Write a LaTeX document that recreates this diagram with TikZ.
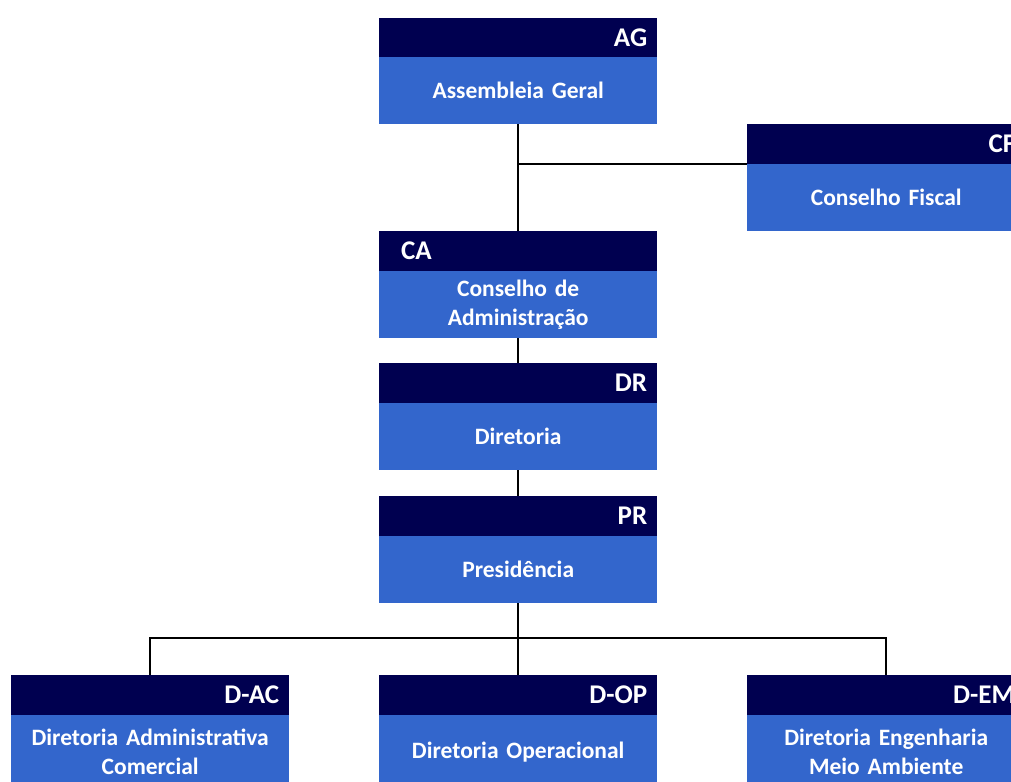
\documentclass[tikz,border=0pt]{standalone}
\usepackage{fontspec}
\setmainfont{Carlito}
\definecolor{hdrc}{RGB}{0,0,80}
\definecolor{bdyc}{RGB}{51,102,204}
\begin{document}
\begin{tikzpicture}[x=1pt,y=-1pt,
  hdr/.style={fill=hdrc, minimum height=40pt, anchor=north west, inner xsep=10pt, inner ysep=0pt,
    text width=258pt, align=right, text=white, font=\fontsize{27}{30}\selectfont\bfseries},
  hdrl/.style={hdr, inner xsep=22pt, text width=234pt, align=left},
  bdy/.style={fill=bdyc, minimum height=67pt, anchor=north west, inner sep=0pt,
    text width=278pt, align=center, text=white, font=\fontsize{23.5}{29}\selectfont\bfseries},
  bdyb/.style={bdy, minimum height=74pt},
  conn/.style={draw=black, line width=2pt}]
\clip (0,0) rectangle (1011,781);
\fill[white] (0,0) rectangle (1011,781);
% boxes
\node[hdr] (agh) at (379,18) {AG};
\node[bdy] (agb) at (379,57) {Assembleia Geral};
\node[hdr] (cfh) at (747,124) {CF};
\node[bdy] (cfb) at (747,164) {Conselho Fiscal};
\node[hdrl] (cah) at (379,231) {CA};
\node[bdy] (cab) at (379,271) {Conselho de\\Administração};
\node[hdr] (drh) at (379,363) {DR};
\node[bdy] (drb) at (379,403) {Diretoria};
\node[hdr] (prh) at (379,496) {PR};
\node[bdy] (prb) at (379,536) {Presidência};
\node[hdr] (ach) at (11,675) {D-AC};
\node[bdyb] (acb) at (11,715) {Diretoria Administrativa\\Comercial};
\node[hdr] (oph) at (379,675) {D-OP};
\node[bdyb] (opb) at (379,715) {Diretoria Operacional};
\node[hdr] (emh) at (747,675) {D-EM};
\node[bdyb] (emb) at (747,715) {Diretoria Engenharia\\Meio Ambiente};
% connectors
\coordinate (bus) at (518,638);
\draw[conn] (agb.south) -- (cah.north);
\draw[conn] (agb.south |- cfb.north west) -- (cfb.north west);
\draw[conn] (cab.south) -- (drh.north);
\draw[conn] (drb.south) -- (prh.north);
\draw[conn] (prb.south) -- (oph.north);
\draw[conn] (ach.north) -- (ach.north |- bus) -- (emh.north |- bus) -- (emh.north);
\end{tikzpicture}
\end{document}
